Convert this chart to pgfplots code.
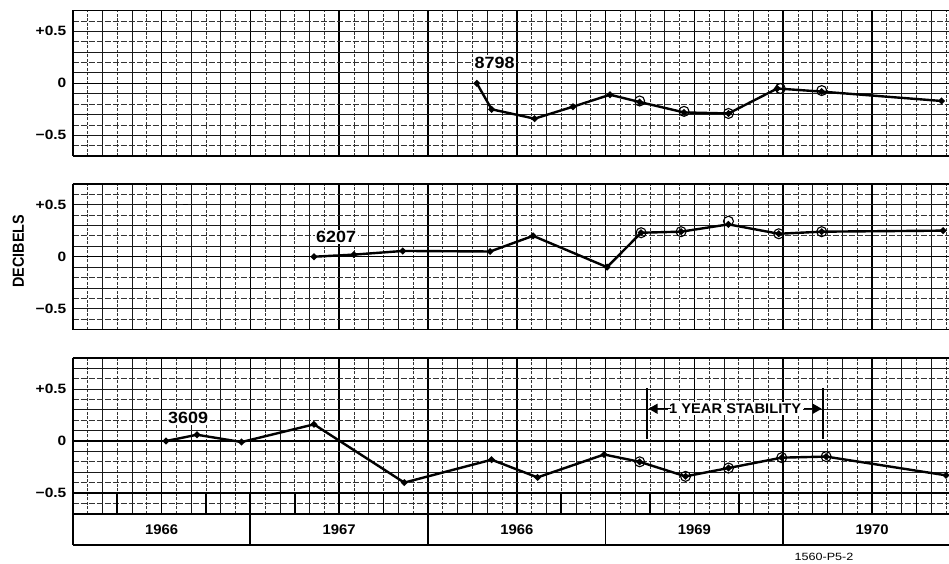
\documentclass[border=0pt]{standalone}
\usepackage{fontspec}
\setmainfont{Liberation Sans}
\usepackage{pgfplots}
\pgfplotsset{compat=1.18}
\usetikzlibrary{arrows.meta}

% months 0..59.2 on x; dB on y
\newcommand\papergrid[3]{% #1 ymin, #2 ymax, #3 list of solid horizontals
  \pgfplotsinvokeforeach{1,3,...,59}{\draw[black!80,line width=0.7pt,dash pattern=on 3pt off 1.5pt] (axis cs:##1,#1) -- (axis cs:##1,#2);}
  \pgfplotsinvokeforeach{2,8,...,56}{\draw[black!90,line width=0.8pt] (axis cs:##1,#1) -- (axis cs:##1,#2);}
  \pgfplotsinvokeforeach{4,10,...,58}{\draw[black!90,line width=0.8pt] (axis cs:##1,#1) -- (axis cs:##1,#2);}
  \pgfplotsinvokeforeach{6,12,...,54}{\draw[black,line width=1.5pt] (axis cs:##1,#1) -- (axis cs:##1,#2);}
  \pgfplotsinvokeforeach{#3}{\draw[black!90,line width=0.85pt] (axis cs:0,##1) -- (axis cs:60,##1);}
  \pgfplotsinvokeforeach{-0.6,-0.4,-0.2,0.2,0.4,0.6}{\draw[black!80,line width=0.7pt,dash pattern=on 6pt off 2pt] (axis cs:0,##1) -- (axis cs:60,##1);}
  \draw[black,line width=1.3pt] (axis cs:0,0) -- (axis cs:60,0);
  \draw[black,line width=1.8pt] (axis cs:0,#1) -- (axis cs:0,#2);
  \draw[black,line width=1.4pt] (axis cs:0,#1) -- (axis cs:60,#1);
  \draw[black,line width=1.8pt] (axis cs:0,#2) -- (axis cs:60,#2);
}

\pgfplotsset{
  panel/.style={
    scale only axis, width=876.3pt, anchor=south west,
    xmin=0, xmax=59.2, clip=false,
    axis line style={draw=none}, tick style={draw=none},
    xtick=\empty, ytick={-0.5,0,0.5}, yticklabels={−0.5,0,+0.5},
    yticklabel style={font=\bfseries\fontsize{13.5}{14}\selectfont, xscale=1.15, anchor=east, xshift=-2pt},
  },
  dataline/.style={black, line width=2.4pt, mark=*, mark size=1.9pt, mark options={solid}},
  circ/.style={only marks, black, mark=o, mark size=5pt, mark options={line width=1.1pt}},
}
\tikzset{
  lbl/.style={fill=white, inner sep=1.5pt, font=\bfseries\fontsize{16.3}{17}\selectfont, xscale=1.1},
  yr/.style={font=\bfseries\fontsize{14}{14}\selectfont, xscale=1.06},
}

\begin{document}
\begin{tikzpicture}
\path[use as bounding box] (0,0) rectangle (949pt,563pt);

% ---------- Panel 1: 8798 ----------
\begin{axis}[panel, at={(72.7pt,406.9pt)}, height=145.6pt, ymin=-0.7, ymax=0.7]
\papergrid{-0.7}{0.7}{-0.5,-0.3,-0.1,0.1,0.3,0.5}
\addplot[dataline] coordinates {
(27.3,0.0) (28.3,-0.25) (31.2,-0.34) (33.8,-0.225) (36.3,-0.11) (38.3,-0.18)
(41.3,-0.28) (44.3,-0.29) (47.6,-0.05) (50.6,-0.08) (58.7,-0.17)};
\addplot[circ] coordinates {(38.3,-0.17) (41.3,-0.27) (44.3,-0.29) (47.8,-0.05) (50.6,-0.07)};
\node[lbl] at (axis cs:28.5,0.2) {8798};
\end{axis}

% ---------- Panel 2: 6207 ----------
\begin{axis}[panel, at={(72.7pt,233.3pt)}, height=146pt, ymin=-0.7, ymax=0.7]
\papergrid{-0.7}{0.7}{-0.5,-0.3,-0.1,0.1,0.3,0.5}
\addplot[only marks, black, mark=-, mark size=2.5pt, mark options={line width=1.6pt}] coordinates {(7.6,0.5)};
\addplot[dataline] coordinates {
(16.3,0.0) (19.0,0.02) (22.3,0.055) (28.2,0.05) (31.1,0.20) (36.1,-0.10)
(38.4,0.23) (41.1,0.24) (44.3,0.31) (47.7,0.22) (50.6,0.24) (58.8,0.25)};
\addplot[circ] coordinates {(38.4,0.23) (41.1,0.24) (44.3,0.34) (47.7,0.22) (50.6,0.24)};
\node[lbl] at (axis cs:17.8,0.19) {6207};
\end{axis}

% ---------- Panel 3: 3609 ----------
\begin{axis}[panel, at={(72.7pt,49.2pt)}, height=156pt, ymin=-0.7, ymax=0.8]
\papergrid{-0.7}{0.8}{-0.5,-0.3,-0.1,0.1,0.3,0.5,0.7}
\pgfplotsinvokeforeach{3,6,...,57}{\draw[black,line width=1.7pt] (axis cs:#1,-0.5) -- (axis cs:#1,-0.7);}
\draw[black,line width=1.4pt] (axis cs:0,-0.5) -- (axis cs:60,-0.5);
\draw[black,line width=1.5pt] (axis cs:48,0.2) -- (axis cs:48,-0.7);
\addplot[dataline] coordinates {
(6.3,0.0) (8.4,0.06) (11.4,-0.01) (16.3,0.16) (22.4,-0.40) (28.3,-0.18)
(31.4,-0.35) (35.9,-0.13) (38.3,-0.20) (41.4,-0.34) (44.3,-0.26) (47.9,-0.16)
(50.9,-0.15) (59.0,-0.33)};
\addplot[circ] coordinates {(38.3,-0.20) (41.4,-0.34) (44.3,-0.26) (47.9,-0.16) (50.9,-0.15)};
\node[lbl] at (axis cs:7.8,0.224) {3609};
% 1 year stability annotation
\draw[black,line width=1.5pt] (axis cs:38.8,0.02) -- (axis cs:38.8,0.51);
\draw[black,line width=1.5pt] (axis cs:50.7,0.02) -- (axis cs:50.7,0.51);
\node[fill=white, inner sep=1.5pt, font=\bfseries\fontsize{14}{14}\selectfont, xscale=1.05] at (axis cs:44.75,0.31) {1 YEAR STABILITY};
\draw[black,line width=1.2pt,-{Triangle[length=9pt,width=10pt]}] (axis cs:40.4,0.31) -- (axis cs:38.9,0.31);
\draw[black,line width=1.2pt,-{Triangle[length=9pt,width=10pt]}] (axis cs:49.4,0.31) -- (axis cs:50.6,0.31);
\end{axis}

% ---------- Year band ----------
\begin{axis}[scale only axis, width=876.3pt, height=31.2pt, at={(72.7pt,18pt)}, anchor=south west,
  xmin=0, xmax=59.2, ymin=0, ymax=1, hide axis, clip=false]
\draw[black,line width=2.6pt] (axis cs:0,1) -- (axis cs:60,1);
\draw[black,line width=1.1pt] (axis cs:0,0) -- (axis cs:60,0);
\draw[black,line width=1.8pt] (axis cs:0,0) -- (axis cs:0,1);
\pgfplotsinvokeforeach{12,24,36,48}{\draw[black,line width=1.7pt] (axis cs:#1,0) -- (axis cs:#1,1);}
\node[yr] at (axis cs:6,0.5) {1966};
\node[yr] at (axis cs:18,0.5) {1967};
\node[yr] at (axis cs:30,0.5) {1966};
\node[yr] at (axis cs:42,0.5) {1969};
\node[yr] at (axis cs:54,0.5) {1970};
\end{axis}

\node[rotate=90, xscale=0.9, font=\bfseries\fontsize{16}{17}\selectfont] at (18.3pt,312pt) {DECIBELS};
\node[xscale=1.2, font=\fontsize{10.5}{11}\selectfont] at (824pt,6pt) {1560-P5-2};
\end{tikzpicture}
\end{document}
